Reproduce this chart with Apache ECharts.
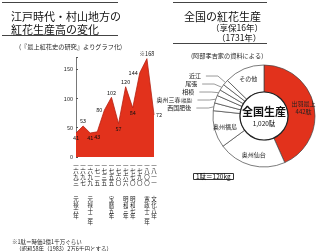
<!DOCTYPE html>
<html><head><meta charset="utf-8">
<script src="https://cdn.jsdelivr.net/npm/echarts@6/dist/echarts.min.js"></script>
<style>html,body{margin:0;padding:0;background:#fff}#c{width:320px;height:251px}</style>
</head><body><div id="c"></div>
<script>
// Left chart: 紅花生産高 (駄)
const years = ['一六九三','一六九七','一六九九','一七一五','一七三五','一七五五','一七六〇','一七六六','一七七〇','一七九〇','一八〇〇','一八一一'];
const eras = ['元禄六年','','元禄十二年','','','宝暦五年','','明和三年','明和七年','','寛政十二年','文化八年'];
const output = [41, 53, 41, 43, 80, 102, 57, 120, 84, 144, 168, 72];
const yTicks = [0, 50, 100, 150];
// Right chart: 全国の紅花生産 (駄)
const regions = ['出羽最上','奥州仙台','奥州福島','西国肥後','奥州三春','相模','尾張','近江','その他'];
const regionValues = [442, 220, 120, 25, 25, 20, 20, 18, 130];
const totalLabel = '1,020駄';

const FONT = '"Noto Sans CJK JP", "Noto Sans", sans-serif';
const labelPos = ['bottom','top','bottom','bottom','left','top','bottom','top','bottom','left','top','right'];
const labelShift = [[5, 0], [0, 0], [0, 0], [0, 0], [0, 0], [0, 0], [0, 0], [0, 0], [0, 0], [0, 0], [0, 0], [0, 0]];

const lineData = output.map((v, i) => ({
  value: v,
  label: { show: true, position: labelPos[i], offset: labelShift[i], formatter: i === 10 ? '※{c}' : '{c}' }
}));

const pieData = regions.map((name, i) => {
  const d = { name: name, value: regionValues[i] };
  if (i === 0) {
    d.itemStyle = { color: '#e2321c' };
    d.label = { position: 'inside', formatter: '{b}\n{c}駄', fontSize: 6, lineHeight: 8, color: '#222' };
  } else if (i <= 2 || i === 8) {
    d.label = { position: 'inside', formatter: '{b}', fontSize: 6, color: '#222' };
  } else {
    d.label = { position: 'outside', fontSize: 6, color: '#222',
      formatter: name === '奥州三春' ? '{b}{s|(福島)}' : '{b}',
      rich: { s: { fontSize: 4.5, fontFamily: FONT } } };
    d.labelLine = { show: true, length: 10, length2: 12, lineStyle: { color: '#555', width: 0.6 } };
  }
  return d;
});

const chart = echarts.init(document.getElementById('c'), null, { renderer: 'canvas' });
chart.setOption({
  animation: false,
  backgroundColor: '#fff',
  textStyle: { fontFamily: FONT },
  title: [
    { text: '江戸時代・村山地方の', left: 6, top: 6, textStyle: { fontSize: 11, fontWeight: 'normal', color: '#111', fontFamily: FONT } },
    { text: '紅花生産高の変化', left: 6, top: 19, textStyle: { fontSize: 11, fontWeight: 'normal', color: '#111', fontFamily: FONT } },
    { text: '(『最上紅花史の研究』よりグラフ化)', left: 14, top: 39, textStyle: { fontSize: 6.2, fontWeight: 'normal', color: '#222', fontFamily: FONT } },
    { text: '全国の紅花生産', left: 179, top: 6, textStyle: { fontSize: 11, fontWeight: 'normal', color: '#111', fontFamily: FONT } },
    { text: '（享保16年）', left: 206, top: 19, textStyle: { fontSize: 8.5, fontWeight: 'normal', color: '#111', fontFamily: FONT } },
    { text: '（1731年）', left: 212, top: 29, textStyle: { fontSize: 8.5, fontWeight: 'normal', color: '#111', fontFamily: FONT } },
    { text: '(阿部孝吉家の資料による)', left: 186, top: 48, textStyle: { fontSize: 6.2, fontWeight: 'normal', color: '#222', fontFamily: FONT } },
    { text: '※1駄＝時価1億1千万ぐらい', left: 7, top: 234, textStyle: { fontSize: 5.5, fontWeight: 'normal', color: '#222', fontFamily: FONT } },
    { text: '（昭和58年（1983）2万6千円とする）', left: 11, top: 241, textStyle: { fontSize: 5.5, fontWeight: 'normal', color: '#222', fontFamily: FONT } },
    { text: '1駄＝120kg', left: 193, top: 173, padding: [0, 3], borderColor: '#333', borderWidth: 1, textStyle: { fontSize: 6.5, fontWeight: 'normal', color: '#111', fontFamily: FONT } }
  ],
  graphic: [
    { type: 'line', shape: { x1: 2, y1: 2.5, x2: 118, y2: 2.5 }, style: { stroke: '#444', lineWidth: 1 } },
    { type: 'line', shape: { x1: 2, y1: 35.5, x2: 118, y2: 35.5 }, style: { stroke: '#444', lineWidth: 1 } },
    { type: 'line', shape: { x1: 173, y1: 2.5, x2: 267, y2: 2.5 }, style: { stroke: '#444', lineWidth: 1 } },
    { type: 'line', shape: { x1: 173, y1: 43.5, x2: 267, y2: 43.5 }, style: { stroke: '#444', lineWidth: 1 } }
  ],
  grid: { left: 76, right: 166, top: 57.5, bottom: 94, containLabel: false },
  xAxis: {
    type: 'category', data: years, boundaryGap: false,
    axisLine: { show: false }, axisTick: { show: false },
    axisLabel: {
      interval: 0, margin: 6, fontSize: 5.5, lineHeight: 5.6, color: '#222', verticalAlign: 'top',
      formatter: (v, i) => {
        let s = '一\n' + v.slice(1).split('').join('\n');
        if (eras[i]) s += '\n\n\n' + eras[i].split('').join('\n');
        return s;
      }
    }
  },
  yAxis: {
    type: 'value', min: 0, max: 170, interval: 50,
    axisLine: { show: true, lineStyle: { color: '#555', width: 0.8 } },
    axisTick: { show: true, inside: true, length: 2, lineStyle: { color: '#555' } },
    splitLine: { show: false },
    axisLabel: { fontSize: 5.5, color: '#222', margin: 3, formatter: v => yTicks.includes(v) ? String(v) : '' }
  },
  series: [
    {
      type: 'line', data: lineData, symbol: 'circle', symbolSize: 0.1, showSymbol: true,
      itemStyle: { color: '#b52010' },
      lineStyle: { color: '#b52010', width: 0.8 },
      areaStyle: { color: '#e2321c', opacity: 1 },
      label: { show: true, fontSize: 5.5, color: '#111', distance: 2 },
      labelLayout: { hideOverlap: false },
      z: 2
    },
    {
      type: 'pie', center: [264, 116], radius: [24, 51], startAngle: 90, clockwise: true,
      avoidLabelOverlap: true, data: pieData,
      itemStyle: { color: '#fff', borderColor: '#444', borderWidth: 0.7 },
      emphasis: { disabled: true }
    },
    {
      type: 'pie', center: [264, 116], radius: [0, 24], silent: true,
      data: [{ name: '全国生産', value: regionValues.reduce((a, b) => a + b, 0) }],
      itemStyle: { color: '#fff', borderColor: '#222', borderWidth: 1.2 },
      label: { show: true, position: 'center', formatter: '{a|全国生産}\n{b|' + totalLabel + '}',
        rich: { a: { fontSize: 11, fontWeight: 'bold', color: '#111', fontFamily: FONT, lineHeight: 15 },
                b: { fontSize: 6.5, color: '#111', fontFamily: FONT, lineHeight: 9 } } },
      labelLine: { show: false }
    }
  ]
});
</script></body></html>
